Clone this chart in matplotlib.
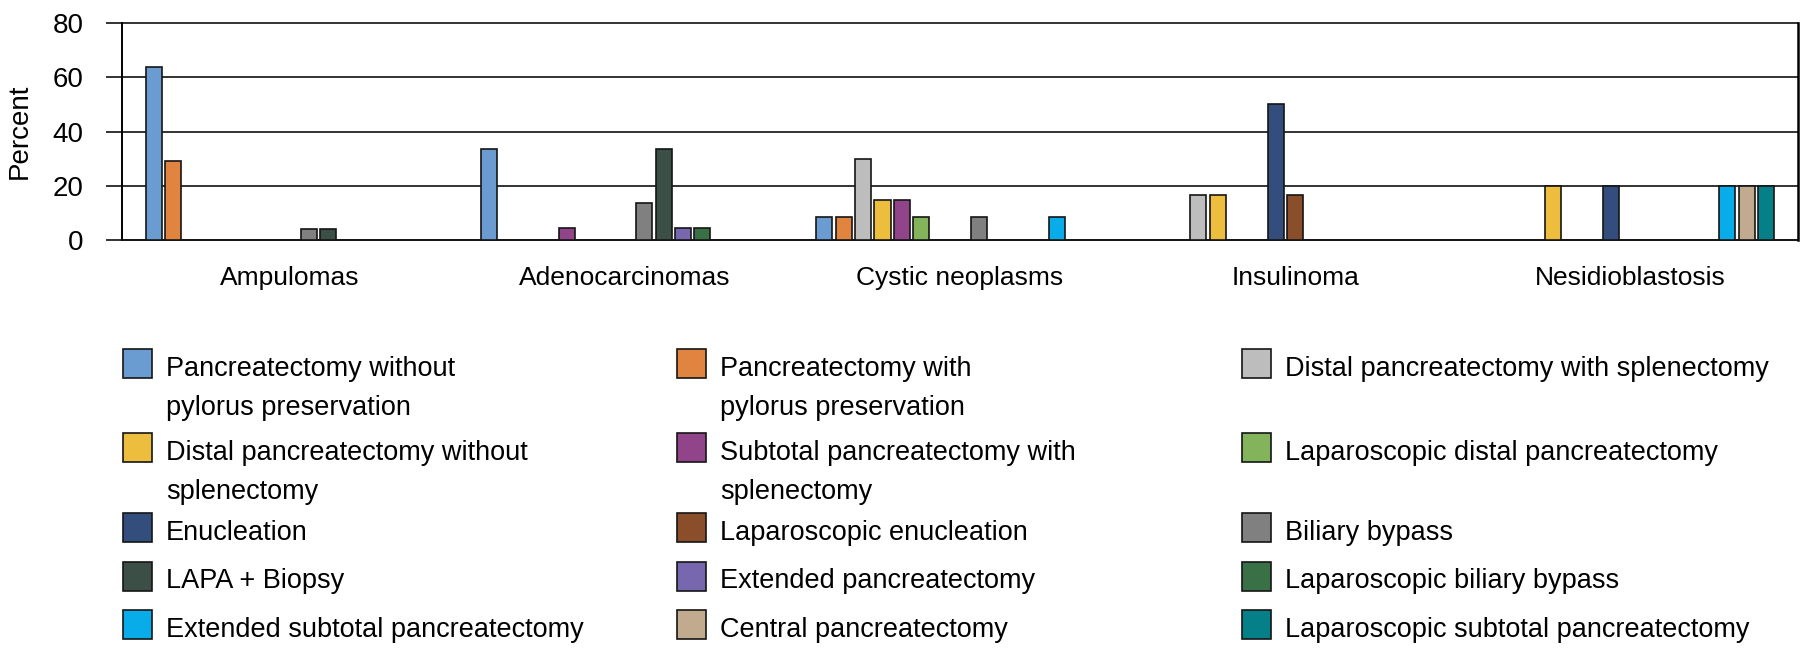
import numpy as np
import matplotlib
matplotlib.use("Agg")
import matplotlib.pyplot as plt
from matplotlib.patches import Rectangle

plt.rcParams['font.family'] = ['Liberation Sans', 'DejaVu Sans']

categories = ["Ampulomas", "Adenocarcinomas", "Cystic neoplasms", "Insulinoma", "Nesidioblastosis"]

series = [
    "Pancreatectomy without\npylorus preservation",
    "Pancreatectomy with\npylorus preservation",
    "Distal pancreatectomy with splenectomy",
    "Distal pancreatectomy without\nsplenectomy",
    "Subtotal pancreatectomy with\nsplenectomy",
    "Laparoscopic distal pancreatectomy",
    "Enucleation",
    "Laparoscopic enucleation",
    "Biliary bypass",
    "LAPA + Biopsy",
    "Extended pancreatectomy",
    "Laparoscopic biliary bypass",
    "Extended subtotal pancreatectomy",
    "Central pancreatectomy",
    "Laparoscopic subtotal pancreatectomy",
]

colors = ["#6A9BD1", "#E1843F", "#BDBDBD", "#EDBD3D", "#914489",
          "#83B45B", "#334E7D", "#8B4E2B", "#808080", "#3B4F47",
          "#7767AE", "#3A7045", "#08ACE8", "#C2AA8F", "#058089"]

# percent per series (legend order) for each category
ampulomas = [63.8, 29.0, 0, 0, 0, 0, 0, 0, 3.9, 3.9, 0, 0, 0, 0, 0]
adenocarcinomas = [33.5, 0, 0, 0, 4.5, 0, 0, 0, 13.7, 33.5, 4.5, 4.5, 0, 0, 0]
cystic = [8.6, 8.6, 29.7, 14.8, 14.8, 8.6, 0, 0, 8.6, 0, 0, 0, 8.6, 0, 0]
insulinoma = [0, 0, 16.7, 16.7, 0, 0, 50.0, 16.5, 0, 0, 0, 0, 0, 0, 0]
nesidioblastosis = [0, 0, 0, 20, 0, 0, 20, 0, 0, 0, 0, 0, 20, 20, 20]

values = np.array([ampulomas, adenocarcinomas, cystic, insulinoma, nesidioblastosis])

W, H = 1800, 648
fig = plt.figure(figsize=(W / 100, H / 100), dpi=100)
ax = fig.add_axes([122 / W, 1 - 240 / H, (1798 - 122) / W, (240 - 23) / H])

n = len(series)
pitch = 0.0578
width = 0.048
x = np.arange(len(categories))
for i in range(n):
    v = values[:, i]
    m = v > 0
    pos = x + (i - (n - 1) / 2) * pitch
    ax.bar(pos[m], v[m], width=width, color=colors[i], edgecolor="#151515",
           linewidth=1.2, zorder=3)

ax.set_xlim(-0.5, len(categories) - 0.5)
ax.set_ylim(0, 80)
ax.set_yticks([0, 20, 40, 60, 80])
ax.set_xticks(x)
ax.set_xticklabels(categories, fontsize=19)
ax.yaxis.grid(True, color="#111111", linewidth=1.2, zorder=0)
for gl in ax.get_ygridlines():
    gl.set_clip_on(False)
ax.set_axisbelow(True)
ax.tick_params(axis="y", length=11.5, width=1.2, color="#111111", pad=16, labelsize=20)
ax.tick_params(axis="x", length=0, pad=19)
ax.spines["top"].set_visible(False)
ax.spines["left"].set_linewidth(1.4)
ax.spines["right"].set_linewidth(1.8)
ax.spines["bottom"].set_linewidth(1.2)
ax.spines["bottom"].set_color("#111111")
ax.set_ylabel("Percent", fontsize=20)
ax.yaxis.set_label_coords(-0.053, 0.5)

# legend, three columns, row-wise order
col_x = [123, 677, 1242]
row_y = [363.5, 447.5, 527.5, 576, 624.5]
box = 29
for i, lab in enumerate(series):
    cx = col_x[i % 3]
    cy = row_y[i // 3]
    fig.add_artist(Rectangle((cx / W, 1 - (cy + box / 2) / H), box / W, box / H,
                             transform=fig.transFigure, facecolor=colors[i],
                             edgecolor="#151515", linewidth=1.2))
    for k, line in enumerate(lab.split("\n")):
        fig.text((cx + 43) / W, 1 - (cy + 12.5 + k * 39) / H, line,
                 fontsize=19.5, ha="left", va="baseline")

fig.savefig("out.png", dpi=100)
